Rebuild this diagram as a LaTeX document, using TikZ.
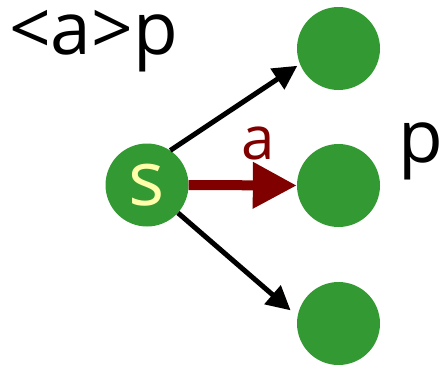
\documentclass[tikz,border=0pt]{standalone}
\usepackage{fontspec}
\setmainfont{Open Sans}
\usetikzlibrary{arrows.meta}
\definecolor{stgreen}{HTML}{339933}
\definecolor{actred}{HTML}{800000}
\definecolor{syellow}{HTML}{FFFFAA}
\begin{document}
\begin{tikzpicture}[x=1pt,y=1pt,
  state/.style={circle,fill=stgreen,minimum size=83pt,inner sep=0pt},
  big/.style={font=\fontsize{73}{86}\selectfont},
  blackarrow/.style={line width=5pt,-{Triangle[length=24pt,width=24pt]}},
  redarrow/.style={actred,line width=10pt,-{Triangle[length=44pt,width=44pt]}}]
\useasboundingbox (0,0) rectangle (444,-364);
\node[state,text=syellow,font=\fontsize{76}{90}\selectfont] (s) at (147,-185) {\raisebox{-8pt}{s}};
\node[state] (t1) at (338.5,-48.5) {};
\node[state] (t2) at (338.5,-185.5) {};
\node[state] (t3) at (338.5,-323.5) {};
\node[big,anchor=base west,inner sep=0pt] (formula) at (9,-54) {<a>p};
\node[big,anchor=base west,inner sep=0pt] (pr) at (398,-162) {p};
\draw[blackarrow,shorten >=3pt] (s.56) -- (t1.202);
\draw[blackarrow,shorten >=9pt] (s.-42) -- (t3.170);
\draw[redarrow] (s.east) -- (t2.west);
\node[anchor=base,text=actred,inner sep=0pt,font=\fontsize{60}{72}\selectfont] (alab) at (258,-159) {a};
\end{tikzpicture}
\end{document}
